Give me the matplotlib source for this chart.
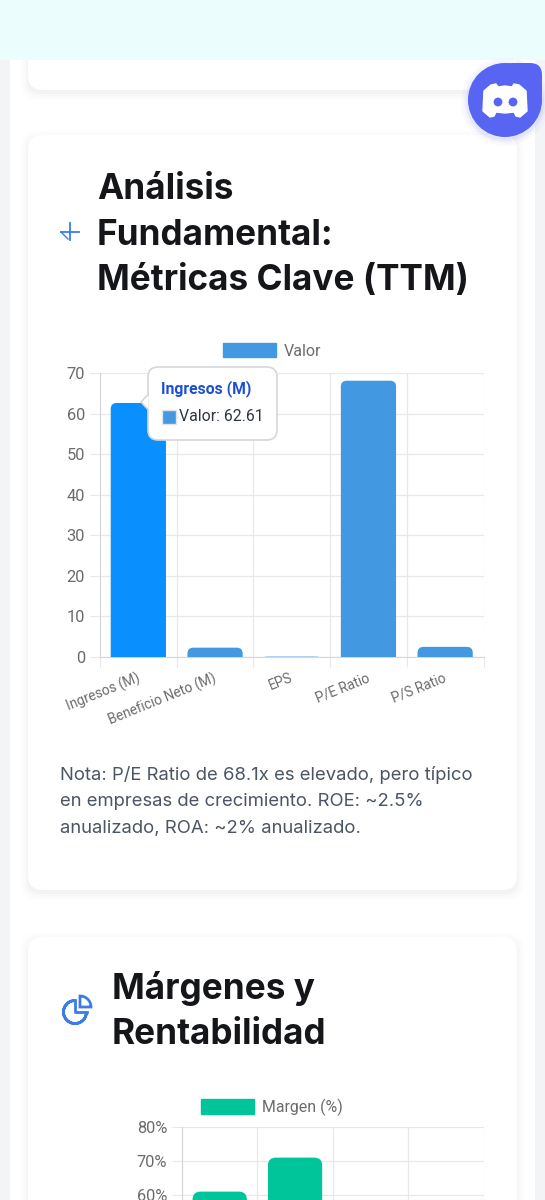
import matplotlib
matplotlib.use('Agg')
import matplotlib.pyplot as plt
from matplotlib.patches import FancyBboxPatch, Rectangle, Circle, Wedge, PathPatch, Polygon, Patch
from matplotlib.path import Path
from matplotlib.transforms import Affine2D, ScaledTranslation

W, H = 545, 1200

metric_labels = ['Ingresos (M)', 'Beneficio Neto (M)', 'EPS', 'P/E Ratio', 'P/S Ratio']
metric_values = [62.61, 2.3, 0.1, 68.1, 2.5]
metric_ticks = [0, 10, 20, 30, 40, 50, 60, 70]
margin_values = [61, 71]
margin_ticks = [60, 70, 80]

BLUE = '#4299e1'
HOVER = '#0a8fff'
GREEN = '#00c49a'
GRID = '#e8e8ea'
TICK = '#6b6b6b'


def px_axes(fig, left, top, right, bottom):
    return fig.add_axes([left / W, 1 - bottom / H, (right - left) / W, (bottom - top) / H])


def card(ax, x0, y0, x1, y1, r=15):
    # soft shadow first, then the white card
    for grow, alpha in [(7, 0.006), (5, 0.008), (3, 0.012), (1, 0.02)]:
        ax.add_patch(FancyBboxPatch((x0 + r - grow, y0 + r + 3 - grow), x1 - x0 - 2 * r + 2 * grow,
                                    y1 - y0 - 2 * r + 2 * grow, boxstyle=f'round,pad={r}',
                                    fc='black', ec='none', alpha=alpha))
    ax.add_patch(FancyBboxPatch((x0 + r, y0 + r), x1 - x0 - 2 * r, y1 - y0 - 2 * r,
                                boxstyle=f'round,pad={r}', fc='white', ec='none'))


def rounded_bar(ax, x, h, width, rx, ry, color, base=0):
    ry = min(ry, h - base)
    l, r = x - width / 2, x + width / 2
    verts = [(l, base), (l, h - ry), (l, h), (l + rx, h), (r - rx, h), (r, h), (r, h - ry), (r, base), (l, base)]
    codes = [Path.MOVETO, Path.LINETO, Path.CURVE3, Path.CURVE3, Path.LINETO,
             Path.CURVE3, Path.CURVE3, Path.LINETO, Path.CLOSEPOLY]
    ax.add_patch(PathPatch(Path(verts, codes), fc=color, ec='none', zorder=3))


def style_chart(ax, n, yticks):
    ax.set_xlim(-0.5, n - 0.5)
    ax.set_xticks([i - 0.5 for i in range(n + 1)])
    ax.set_xticklabels([])
    ax.set_yticks(yticks)
    ax.grid(True, color=GRID, lw=0.9, zorder=0)
    ax.set_axisbelow(True)
    for s in ax.spines.values():
        s.set_visible(False)
    ax.spines['left'].set_visible(True)
    ax.spines['left'].set_color('#d6d6d8')
    ax.spines['bottom'].set_visible(True)
    ax.spines['bottom'].set_color('#d6d6d8')
    ax.tick_params(axis='both', which='major', length=7.2, width=0.8, color=GRID)
    ax.tick_params(axis='y', labelsize=11.8, labelcolor=TICK, pad=3.6)
    ax.patch.set_alpha(0)


plt.rcParams['font.family'] = ['Roboto', 'DejaVu Sans']
fig = plt.figure(figsize=(W / 100, H / 100), dpi=100, facecolor='#f3f4f6')

bg = fig.add_axes([0, 0, 1, 1], zorder=0)
bg.set_xlim(0, W)
bg.set_ylim(H, 0)
bg.axis('off')
bg.add_patch(Rectangle((10, 0), 525, H, fc='white', ec='none'))
card(bg, 28, 20, 517, 90)
card(bg, 28, 135, 517, 890)
card(bg, 28, 937, 517, 1260)
bg.add_patch(Rectangle((0, 0), W, 60, fc='#ecfdfd', ec='none', zorder=5))

# headings
for y, s in [(199, 'Análisis'), (245, 'Fundamental:'), (290, 'Métricas Clave (TTM)')]:
    bg.text(97, y, s, family='Inter', fontsize=25.3, fontweight='bold', color='#14161a', va='baseline')
for y, s in [(999, 'Márgenes y'), (1044, 'Rentabilidad')]:
    bg.text(112, y, s, family='Inter', fontsize=25.3, fontweight='bold', color='#14161a', va='baseline')

# note under the first chart
for y, s in [(780, 'Nota: P/E Ratio de 68.1x es elevado, pero típico'),
             (806, 'en empresas de crecimiento. ROE: ~2.5%'),
             (833, 'anualizado, ROA: ~2% anualizado.')]:
    bg.text(60, y, s, family='Inter', fontsize=13.3, color='#4b5563', va='baseline')

# small icons
ICON = '#3b7de8'
bg.plot([61, 79], [232, 232], color=ICON, lw=1.3)
bg.plot([70, 70], [223, 240], color=ICON, lw=1.3)
bg.plot([61, 68], [232, 239], color=ICON, lw=1.0)
bg.add_patch(Wedge((75, 1012), 11.5, 0, 270, width=0, fc='none', ec=ICON, lw=2))
bg.plot([75, 75, 87], [1000, 1012, 1012], color=ICON, lw=2)
bg.add_patch(Wedge((80, 1007), 11, 270, 360, fc='white', ec=ICON, lw=2))

# metrics chart
ax = px_axes(fig, 100, 373, 483.5, 657)
ax.set_zorder(2)
ax.set_ylim(0, 70)
style_chart(ax, len(metric_values), metric_ticks)
for i, v in enumerate(metric_values):
    rounded_bar(ax, i, v, 0.72, 6 / 76.7, 6 / 4.057, HOVER if i == 0 else BLUE)
ax.set_xticks(range(len(metric_labels)), minor=True)
ax.set_xticklabels(metric_labels, minor=True, rotation=22, ha='right', rotation_mode='anchor',
                   fontsize=9.9, color=TICK)
ax.tick_params(axis='x', which='minor', length=0, pad=10)
nudge = ScaledTranslation(-2 / 100, 0, fig.dpi_scale_trans)
for lab in ax.get_xticklabels(minor=True):
    lab.set_transform(lab.get_transform() + nudge)
ax.legend(handles=[Patch(color=BLUE, label='Valor')], loc='center', frameon=False, fontsize=11.5,
          labelcolor=TICK, handlelength=3.3, handleheight=1.0, handletextpad=0.5, borderpad=0,
          bbox_to_anchor=(272 / W, 1 - 351 / H), bbox_transform=fig.transFigure)

# margins chart, cut off by the bottom of the screenshot
ax2 = px_axes(fig, 182, 1127, 483.5, H)
ax2.set_zorder(2)
ax2.set_ylim(80 - 73 / 3.4, 80)
style_chart(ax2, 4, margin_ticks)
ax2.set_yticklabels([f'{t}%' for t in margin_ticks])
for i, v in enumerate(margin_values):
    rounded_bar(ax2, i, v, 0.72, 8 / 75.4, 8 / 3.4, GREEN, base=50)
ax2.legend(handles=[Patch(color=GREEN, label='Margen (%)')], loc='center', frameon=False, fontsize=11.4,
           labelcolor=TICK, handlelength=3.3, handleheight=1.05, handletextpad=0.5, borderpad=0,
           bbox_to_anchor=(272 / W, 1 - 1107 / H), bbox_transform=fig.transFigure)

# overlay for tooltip and the floating button
top = fig.add_axes([0, 0, 1, 1], zorder=5)
top.set_xlim(0, W)
top.set_ylim(H, 0)
top.axis('off')

top.add_patch(FancyBboxPatch((158, 377), 109, 53, boxstyle='round,pad=10', fc='white', ec='#d5d7da', lw=1.2, zorder=6))
top.add_patch(Polygon([(148.5, 394), (141, 402), (148.5, 410)], closed=False, fc='white', ec='#d5d7da', lw=1.2, zorder=7))
top.add_patch(Rectangle((149, 393), 2, 18, fc='white', ec='none', zorder=7))
top.text(161, 389, metric_labels[0], fontsize=11.3, fontweight='bold', color='#1d4ed8', va='center', zorder=8)
top.add_patch(Rectangle((161.5, 409.5), 14.5, 14.5, fc=BLUE, ec='#dfe3e8', lw=1, zorder=8))
top.text(179, 416.5, f'Valor: {metric_values[0]}', fontsize=11.4, color='#2d3540', va='center', zorder=8)

# discord button
DISCORD = '#5865f2'
for grow, alpha in [(7, 0.03), (4, 0.05), (2, 0.07)]:
    top.add_patch(Circle((505, 102), 37 + grow, fc=DISCORD, ec='none', alpha=alpha, zorder=9))
top.add_patch(Circle((505, 100), 37, fc=DISCORD, ec='none', zorder=10))
top.add_patch(FancyBboxPatch((513, 75), 17, 17, boxstyle='round,pad=12', fc=DISCORD, ec='none', zorder=10))
logo = [(-22, 11), (-21, -9), (-14, -15), (-9, -16), (-7, -13), (0, -14), (7, -13), (9, -16), (14, -15),
        (21, -9), (22, 11), (15, 17), (11, 16), (9, 12), (0, 13), (-9, 12), (-11, 16), (-15, 17)]
top.add_patch(Polygon(logo, closed=True, fc='white', ec='white', lw=1, joinstyle='round', zorder=11,
                      transform=Affine2D().translate(505, 100) + top.transData))
for ex in (498, 513):
    top.add_patch(Circle((ex, 102), 4.4, fc=DISCORD, ec='none', zorder=12))

fig.savefig('out.png', dpi=100, facecolor=fig.get_facecolor())
